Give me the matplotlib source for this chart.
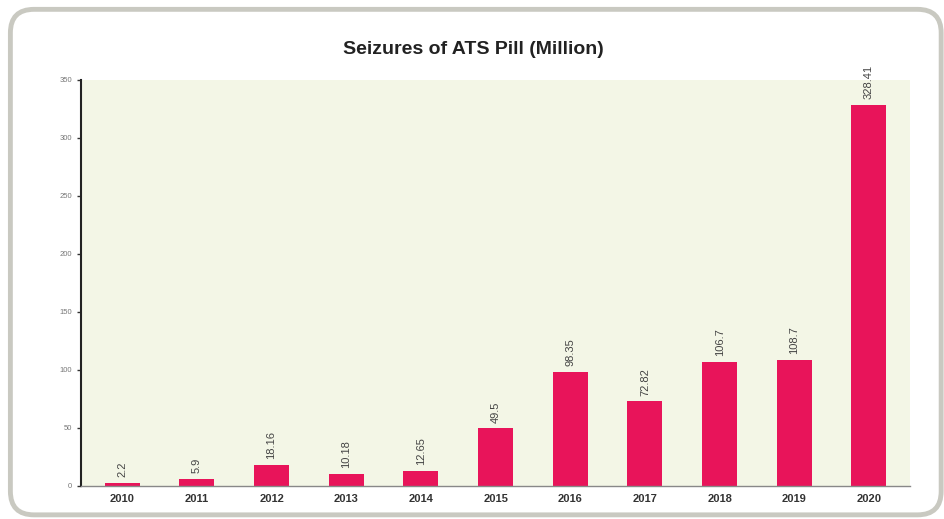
import matplotlib.pyplot as plt
import numpy as np
from matplotlib.patches import FancyBboxPatch

years = ['2010', '2011', '2012', '2013', '2014', '2015', '2016', '2017', '2018', '2019', '2020']
seizures = [2.2, 5.9, 18.16, 10.18, 12.65, 49.5, 98.35, 72.82, 106.7, 108.7, 328.41]
labels = ['2.2', '5.9', '18.16', '10.18', '12.65', '49.5', '98.35', '72.82', '106.7', '108.7', '328.41']

plt.rcParams['font.family'] = ['Liberation Sans', 'DejaVu Sans']

fig = plt.figure(figsize=(9.44, 5.19), dpi=100)

# rounded outer frame
frame = FancyBboxPatch((0.011, 0.008), 0.986, 0.974, boxstyle='round,pad=0,rounding_size=0.025',
                       transform=fig.transFigure, fill=False, edgecolor='#c9c9c1', linewidth=3.5,
                       mutation_aspect=944 / 519)
fig.patches.append(frame)

ax = fig.add_axes([0.086, 0.064, 0.878, 0.782])
ax.set_facecolor('#f3f6e6')

x = np.arange(len(years))
ax.bar(x, seizures, width=0.47, color='#e8145a', zorder=2)
for xi, v, lab in zip(x, seizures, labels):
    ax.text(xi, v + 5, lab, rotation=90, ha='center', va='bottom', fontsize=8, color='#444444', zorder=3)

ax.set_xlim(-0.55, 10.55)
ax.set_ylim(0, 350)
ax.set_yticks(range(0, 351, 50))
ax.tick_params(axis='y', labelsize=5.5, labelcolor='#777777', length=3, width=1, color='#333333')
ax.set_xticks(x)
ax.set_xticklabels(years, fontweight='bold', fontsize=8, color='#333333')
ax.tick_params(axis='x', length=0, pad=6)

for s in ['top', 'right']:
    ax.spines[s].set_visible(False)
ax.spines['left'].set_color('#222222')
ax.spines['left'].set_linewidth(1.5)
ax.spines['bottom'].set_color('#888888')
ax.spines['bottom'].set_linewidth(1)

fig.text(0.501, 0.905, 'Seizures of ATS Pill (Million)', ha='center', va='center',
         fontsize=14, fontweight='bold', color='#222222')

plt.savefig('out.png', dpi=100)
